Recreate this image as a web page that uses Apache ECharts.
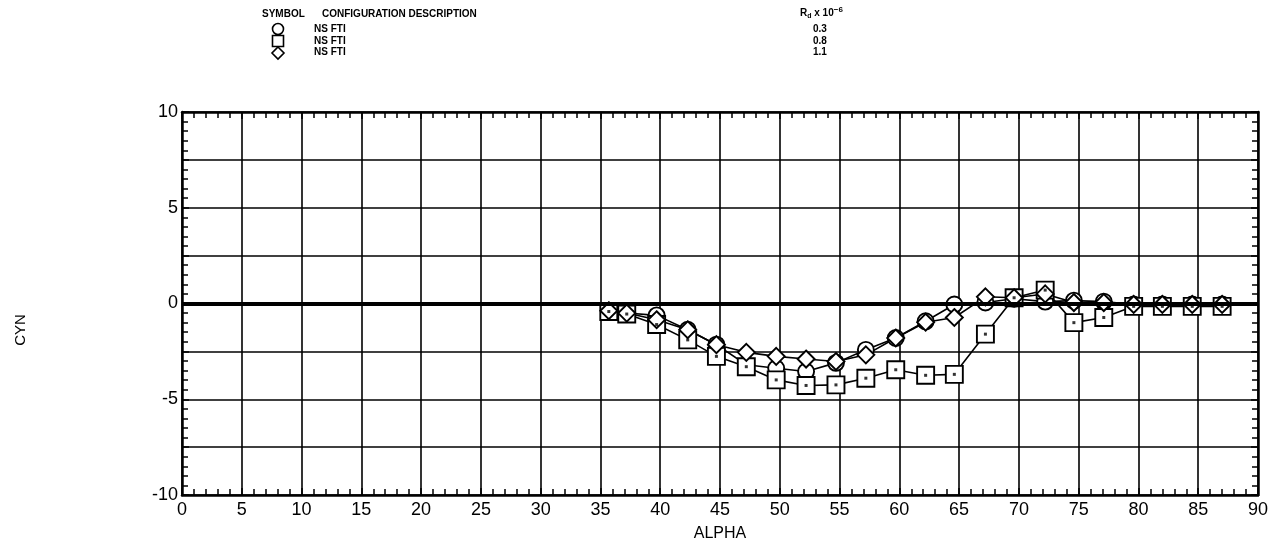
<!DOCTYPE html>
<html>
<head>
<meta charset="utf-8">
<script src="https://cdn.jsdelivr.net/npm/echarts@6/dist/echarts.min.js"></script>
<style>html,body{margin:0;padding:0;background:#fff}#c{width:1275px;height:555px}</style>
</head>
<body>
<div id="c"></div>
<script>
var alpha = [35.7, 37.2, 39.7, 42.3, 44.7, 47.2, 49.7, 52.2, 54.7, 57.2, 59.7, 62.2, 64.6, 67.2, 69.6, 72.2, 74.6, 77.1, 79.6, 82.0, 84.5, 87.0];
var cynCircle  = [-0.38, -0.5, -0.62, -1.37, -2.15, -3.2, -3.38, -3.55, -3.1, -2.42, -1.8, -0.93, -0.05, 0.05, 0.25, 0.1, 0.15, 0.1, -0.05, -0.05, -0.05, -0.05];
var cynSquare  = [-0.42, -0.55, -1.1, -1.9, -2.76, -3.3, -3.99, -4.28, -4.25, -3.9, -3.46, -3.75, -3.7, -1.6, 0.3, 0.7, -1.0, -0.73, -0.15, -0.15, -0.15, -0.15];
var cynDiamond = [-0.38, -0.5, -0.85, -1.37, -2.15, -2.55, -2.76, -2.9, -3.03, -2.68, -1.8, -0.98, -0.73, 0.35, 0.3, 0.5, 0.05, 0.05, -0.05, -0.05, -0.05, -0.05];
var legendDesc = ['NS FTI', 'NS FTI', 'NS FTI'];
var legendRd = ['0.3', '0.8', '1.1'];

function pairs(xs, ys){ return xs.map(function(x,i){ return [x, ys[i]]; }); }

var chart = echarts.init(document.getElementById('c'), null, {renderer:'canvas'});
var F = 'Liberation Sans, DejaVu Sans, sans-serif';
var lineStyle = {color:'#000', width:1.6};
var itemStyle = {color:'#fff', borderColor:'#000', borderWidth:1.9};

function mkSeries(name, data, symbol, size){
  return {name:name, type:'line', data:data, symbol:symbol, symbolSize:size,
    showAllSymbol:true, lineStyle:lineStyle, itemStyle:itemStyle, z:3, animation:false};
}

function axisCommon(){
  return {
    axisLine:{show:true, onZero:false, lineStyle:{color:'#000', width:2.5}},
    axisTick:{show:true, inside:true, length:7, lineStyle:{color:'#000', width:1.5}},
    minorTick:{show:true, splitNumber:5, length:6, lineStyle:{color:'#000', width:1.5}}
  };
}

var option = {
  animation:false,
  backgroundColor:'#fff',
  grid:{left:182, right:17, top:112, bottom:60},
  xAxis:[
    Object.assign({type:'value', min:0, max:90, interval:5, position:'bottom',
      name:'ALPHA', nameLocation:'middle', nameGap:31,
      nameTextStyle:{fontFamily:F, fontSize:16, color:'#000'},
      axisLabel:{fontFamily:F, fontSize:18, color:'#000', margin:6},
      splitLine:{show:true, lineStyle:{color:'#000', width:1.6}}}, axisCommon()),
    Object.assign({type:'value', min:0, max:90, interval:5, position:'top',
      axisLabel:{show:false}, splitLine:{show:false}}, axisCommon())
  ],
  yAxis:[
    Object.assign({type:'value', min:-10, max:10, interval:2.5, position:'left',
      axisLabel:{fontFamily:F, fontSize:18, color:'#000', margin:4,
        formatter:function(v){ return (Math.abs(v % 5) < 1e-9) ? String(v) : ''; }},
      splitLine:{show:true, lineStyle:{color:'#000', width:1.6}}}, axisCommon()),
    Object.assign({type:'value', min:-10, max:10, interval:2.5, position:'right',
      axisLabel:{show:false}, splitLine:{show:false}}, axisCommon())
  ],
  series:[
    Object.assign(mkSeries('c', pairs(alpha, cynCircle), 'circle', 16), {
      markLine:{silent:true, symbol:'none', label:{show:false},
        lineStyle:{color:'#000', width:4, type:'solid'}, data:[{yAxis:0}]}
    }),
    mkSeries('s', pairs(alpha, cynSquare), 'rect', 17),
    mkSeries('d', pairs(alpha, cynDiamond), 'diamond', 17),
    {type:'scatter', data:pairs(alpha, cynSquare), symbol:'rect', symbolSize:3,
      itemStyle:{color:'#000'}, z:5, silent:true}
  ],
  graphic:[
    {type:'text', x:21, y:330, rotation:Math.PI/2, style:{text:'CYN', font:'15px '+F, fill:'#000', align:'center', verticalAlign:'middle'}},
    {type:'text', left:262, top:9, style:{text:'SYMBOL', font:'bold 10px '+F, fill:'#000'}},
    {type:'text', left:322, top:9, style:{text:'CONFIGURATION DESCRIPTION', font:'bold 10px '+F, fill:'#000'}},
    {type:'text', left:800, top:6, style:{rich:{a:{font:'bold 10px '+F, fill:'#000'}, b:{font:'bold 7px '+F, fill:'#000', padding:[6,0,0,0]}, c:{font:'bold 10px '+F, fill:'#000'}, d:{font:'bold 8px '+F, fill:'#000', padding:[0,0,6,0]}}, text:'{a|R}{b|d}{c| x 10}{d|−6}'}},
    {type:'circle', shape:{cx:278, cy:29, r:5.5}, style:{fill:'#fff', stroke:'#000', lineWidth:1.6}},
    {type:'rect', shape:{x:272.5, y:35.5, width:11, height:11}, style:{fill:'#fff', stroke:'#000', lineWidth:1.6}},
    {type:'polygon', shape:{points:[[278,47],[284,53],[278,59],[272,53]]}, style:{fill:'#fff', stroke:'#000', lineWidth:1.6}},
    {type:'text', left:314, top:24, style:{text:legendDesc[0], font:'bold 10px '+F, fill:'#000'}},
    {type:'text', left:314, top:36, style:{text:legendDesc[1], font:'bold 10px '+F, fill:'#000'}},
    {type:'text', left:314, top:47, style:{text:legendDesc[2], font:'bold 10px '+F, fill:'#000'}},
    {type:'text', left:813, top:24, style:{text:legendRd[0], font:'bold 10px '+F, fill:'#000'}},
    {type:'text', left:813, top:36, style:{text:legendRd[1], font:'bold 10px '+F, fill:'#000'}},
    {type:'text', left:813, top:47, style:{text:legendRd[2], font:'bold 10px '+F, fill:'#000'}}
  ]
};
chart.setOption(option);
</script>
</body>
</html>
